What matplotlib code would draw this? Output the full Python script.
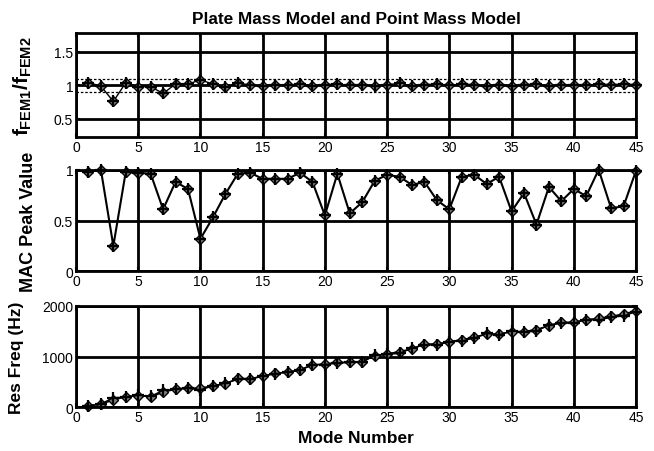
import matplotlib
matplotlib.use("Agg")
import matplotlib.pyplot as plt
import numpy as np

plt.rcParams['font.family'] = ['Liberation Sans', 'DejaVu Sans']
plt.rcParams['mathtext.fontset'] = 'custom'
plt.rcParams['mathtext.rm'] = 'Liberation Sans:bold'
plt.rcParams['mathtext.it'] = 'Liberation Sans:bold'
plt.rcParams['mathtext.bf'] = 'Liberation Sans:bold'

modes = list(range(1, 46))

ratio = [1.04, 0.99, 0.76, 1.04, 0.98, 0.98, 0.88, 1.02, 1.02, 1.08,
         1.02, 0.97, 1.04, 1.00, 0.99, 1.01, 1.00, 1.02, 0.99, 1.01,
         1.02, 1.00, 1.01, 0.99, 1.01, 1.03, 0.99, 1.01, 1.02, 1.00,
         1.02, 1.01, 0.99, 1.01, 0.99, 1.01, 1.02, 0.99, 1.01, 1.01,
         1.00, 1.02, 1.01, 1.02, 1.01]

mac = [0.98, 1.00, 0.25, 0.98, 0.97, 0.96, 0.61, 0.88, 0.81, 0.32,
       0.53, 0.76, 0.96, 0.97, 0.91, 0.91, 0.91, 0.97, 0.88, 0.55,
       0.96, 0.57, 0.68, 0.89, 0.95, 0.93, 0.85, 0.88, 0.70, 0.61,
       0.93, 0.95, 0.86, 0.93, 0.59, 0.77, 0.46, 0.83, 0.69, 0.81,
       0.74, 1.00, 0.62, 0.64, 0.99]

freq_plate = [30, 65, 143, 210, 230, 210, 295, 360, 380, 375,
              425, 460, 570, 560, 610, 670, 690, 740, 833, 850,
              885, 885, 900, 1015, 1050, 1095, 1150, 1245, 1245, 1290,
              1330, 1378, 1440, 1440, 1490, 1490, 1530, 1605, 1673, 1673,
              1725, 1750, 1790, 1835, 1900]

freq_point = [29, 66, 188, 202, 235, 214, 335, 353, 373, 347,
              417, 474, 548, 560, 616, 663, 690, 725, 841, 842,
              868, 885, 891, 1025, 1040, 1063, 1162, 1233, 1221, 1290,
              1304, 1364, 1455, 1426, 1505, 1475, 1500, 1621, 1656, 1656,
              1725, 1716, 1772, 1799, 1881]

xticks = [0, 5, 10, 15, 20, 25, 30, 35, 40, 45]

fig = plt.figure(figsize=(6.54, 4.52), dpi=100)
W, H = 654, 452
L, R = 76, 636

def mkax(top, bottom):
    return fig.add_axes([L / W, 1 - bottom / H, (R - L) / W, (bottom - top) / H])

ax1 = mkax(34, 138.3)
ax2 = mkax(170.7, 272.3)
ax3 = mkax(306.7, 408.3)

for ax in (ax1, ax2, ax3):
    ax.set_xlim(0, 45)
    ax.set_xticks(xticks)
    ax.grid(True, color='black', linewidth=2.0)
    ax.set_axisbelow(True)
    for s in ax.spines.values():
        s.set_linewidth(2.0)
    ax.tick_params(direction='in', length=3, width=1.5, labelsize=10, pad=2,
                   top=True, right=True)

mk1 = dict(marker='D', markersize=5, markerfacecolor='#808080',
           markeredgecolor='black', markeredgewidth=1.0, clip_on=False)
mk2 = dict(marker='+', markersize=8, markeredgecolor='black',
           markeredgewidth=1.6, clip_on=False)

# top: ratio
ax1.plot(modes, ratio, color='black', linewidth=1.0, **mk1)
ax1.plot(modes, ratio, color='black', linewidth=0, **mk2)
ax1.axhline(1.1, color='black', linestyle=(0, (2, 1.5)), linewidth=0.9)
ax1.axhline(0.9, color='black', linestyle=(0, (2, 1.5)), linewidth=0.9)
ax1.set_ylim(0.227, 1.779)
ax1.set_yticks([0.5, 1, 1.5])
ax1.set_yticklabels(['0.5', '1', '1.5'])
ax1.set_ylabel(r'$f_{FEM1}/f_{FEM2}$', fontsize=15)
ax1.yaxis.set_label_coords(-0.075, 0.5)
ax1.set_title('Plate Mass Model and Point Mass Model', fontsize=12.4,
              fontweight='bold', pad=7)

# middle: MAC
ax2.plot(modes, mac, color='black', linewidth=1.5, **mk1)
ax2.plot(modes, mac, color='black', linewidth=0, **mk2)
ax2.set_ylim(0, 1)
ax2.set_yticks([0, 0.5, 1])
ax2.set_yticklabels(['0', '0.5', '1'])
ax2.set_ylabel('MAC Peak Value', fontsize=13, fontweight='bold')
ax2.yaxis.set_label_coords(-0.07, 0.5)

# bottom: resonance frequencies
ax3.plot(modes, freq_plate, color='black', linewidth=1.2, **mk1)
ax3.plot(modes, freq_point, color='black', linewidth=1.0, **mk2)
ax3.set_ylim(0, 2000)
ax3.set_yticks([0, 1000, 2000])
ax3.set_yticklabels(['0', '1000', '2000'])
ax3.set_ylabel('Res Freq (Hz)', fontsize=12.5, fontweight='bold')
ax3.yaxis.set_label_coords(-0.092, 0.5)
ax3.set_xlabel('Mode Number', fontsize=12.5, fontweight='bold', labelpad=4)

fig.savefig('out.png', dpi=100)
